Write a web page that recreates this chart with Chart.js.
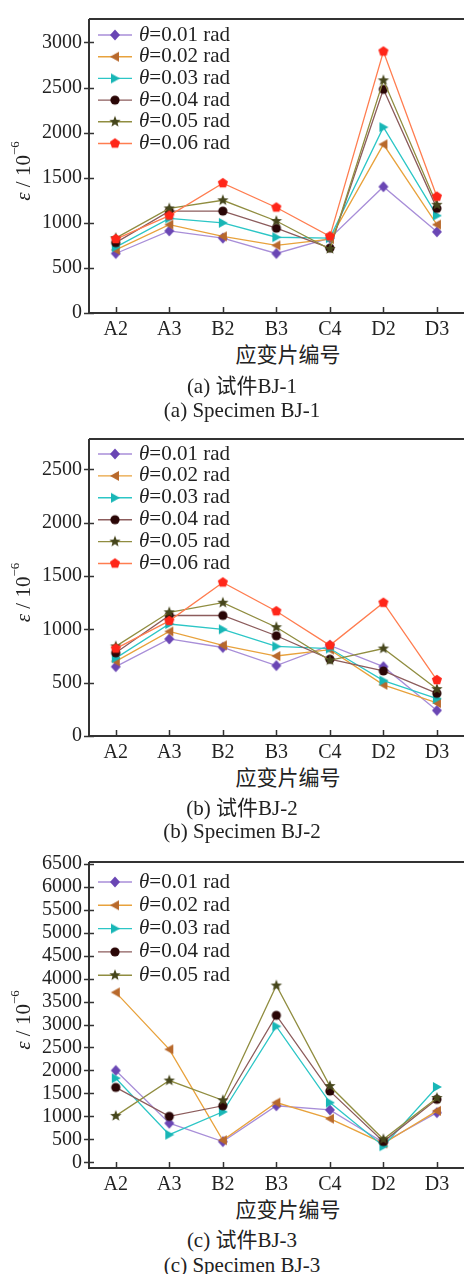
<!DOCTYPE html>
<html>
<head>
<meta charset="utf-8">
<script src="https://cdn.jsdelivr.net/npm/chart.js@4/dist/chart.umd.min.js"></script>
<style>
  body { margin: 0; width: 464px; height: 1274px; overflow: hidden; background: #fff; position: relative; }
  canvas { position: absolute; left: 0; }
  .txt { position: absolute; text-align: center; white-space: nowrap; color: #222;
         font-family: "Liberation Serif", "Noto Sans CJK SC", serif; }
</style>
</head>
<body>
<canvas id="c1" width="470" height="343" style="top:0px"></canvas>
<canvas id="c2" width="470" height="346" style="top:420px"></canvas>
<canvas id="c3" width="470" height="358" style="top:840px"></canvas>

<script>
const categories = ['A2', 'A3', 'B2', 'B3', 'C4', 'D2', 'D3'];
const thetas = ['0.01', '0.02', '0.03', '0.04', '0.05', '0.06'];

// y tick values for each specimen
const bj1Ticks = [0, 500, 1000, 1500, 2000, 2500, 3000];
const bj2Ticks = [0, 500, 1000, 1500, 2000, 2500];
const bj3Ticks = [0, 500, 1000, 1500, 2000, 2500, 3000, 3500, 4000, 4500, 5000, 5500, 6000, 6500];

// strain (x10^-6) per gauge, one row per drift angle
const bj1Strain = [
  [660, 910, 830, 660, 830, 1400, 900],
  [700, 980, 850, 750, 820, 1870, 980],
  [730, 1050, 1000, 840, 830, 2060, 1080],
  [780, 1130, 1130, 940, 720, 2480, 1160],
  [830, 1160, 1250, 1020, 710, 2580, 1200],
  [820, 1080, 1440, 1170, 850, 2900, 1290]
];
const bj2Strain = [
  [650, 910, 830, 660, 850, 650, 240],
  [700, 980, 850, 750, 810, 480, 310],
  [730, 1050, 1000, 840, 820, 520, 350],
  [780, 1130, 1130, 940, 720, 610, 400],
  [840, 1160, 1250, 1020, 710, 820, 440],
  [820, 1080, 1440, 1170, 850, 1250, 525]
];
const bj3Strain = [
  [2000, 850, 450, 1230, 1140, 430, 1080],
  [3700, 2460, 480, 1300, 950, 410, 1120],
  [1830, 600, 1100, 2960, 1300, 350, 1640],
  [1630, 1000, 1230, 3200, 1550, 450, 1370],
  [1010, 1780, 1350, 3850, 1660, 500, 1400]
];

const lineColors = ['#a88ed8', '#e8a23c', '#2cc6c6', '#8c5c5c', '#908d40', '#ff7d50'];
const markColors = ['#6a46b4', '#b8692c', '#18b6b6', '#2a0606', '#46461c', '#ff2619'];
const markKinds = ['diamond', 'left', 'right', 'circle', 'star', 'pentagon'];

function markerCanvas(kind, color) {
  const c = document.createElement('canvas');
  c.width = c.height = 14;
  const g = c.getContext('2d');
  g.fillStyle = color;
  g.translate(7, 7);
  g.beginPath();
  if (kind === 'diamond') {
    g.moveTo(0, -5.5); g.lineTo(5, 0); g.lineTo(0, 5.5); g.lineTo(-5, 0);
  } else if (kind === 'left') {
    g.moveTo(-5, 0); g.lineTo(4, -5); g.lineTo(4, 5);
  } else if (kind === 'right') {
    g.moveTo(5, 0); g.lineTo(-4, -5); g.lineTo(-4, 5);
  } else if (kind === 'circle') {
    g.arc(0, 0, 4.6, 0, Math.PI * 2);
  } else if (kind === 'star') {
    for (let i = 0; i < 10; i++) {
      const r = i % 2 ? 2.6 : 6;
      const a = -Math.PI / 2 + i * Math.PI / 5;
      g.lineTo(r * Math.cos(a), r * Math.sin(a));
    }
  } else {
    for (let i = 0; i < 5; i++) {
      const a = -Math.PI / 2 + i * 2 * Math.PI / 5;
      g.lineTo(5.3 * Math.cos(a), 5.3 * Math.sin(a));
    }
  }
  g.closePath();
  g.fill();
  return c;
}
const markers = markKinds.map((k, i) => markerCanvas(k, markColors[i]));

// ticks, frame, y title and legend drawn by hand
const framePlugin = {
  id: 'frame',
  afterDraw(chart, args, opts) {
    const ctx = chart.ctx;
    const a = chart.chartArea;
    const right = a.right + 10;
    ctx.save();
    ctx.strokeStyle = '#333';
    ctx.lineWidth = 2;
    ctx.beginPath();
    ctx.moveTo(a.left, a.top); ctx.lineTo(right, a.top);
    ctx.moveTo(a.left, a.top); ctx.lineTo(a.left, a.bottom);
    ctx.moveTo(a.left - 1, a.bottom); ctx.lineTo(right, a.bottom);
    ctx.stroke();

    ctx.lineWidth = 1.5;
    ctx.beginPath();
    const y = chart.scales.y;
    y.ticks.forEach(t => {
      const py = Math.round(y.getPixelForValue(t.value)) + 0.5;
      ctx.moveTo(a.left - 5, py); ctx.lineTo(a.left + 5, py);
    });
    const x = chart.scales.x;
    x.ticks.forEach((t, i) => {
      const px = Math.round(x.getPixelForTick(i)) + 0.5;
      ctx.moveTo(px, a.bottom); ctx.lineTo(px, a.bottom - 6);
    });
    ctx.stroke();

    // y axis title: ε / 10^-6
    ctx.fillStyle = '#222';
    ctx.translate(24, (a.top + a.bottom) / 2 + 5);
    ctx.rotate(-Math.PI / 2);
    ctx.textBaseline = 'middle';
    const parts = [
      { s: 'ε', f: 'italic 21px "Liberation Serif"', dy: 0 },
      { s: ' / 10', f: '21px "Liberation Serif"', dy: 0 },
      { s: '−6', f: '13px "Liberation Serif"', dy: -8 }
    ];
    let w = 0;
    parts.forEach(p => { ctx.font = p.f; p.w = ctx.measureText(p.s).width; w += p.w; });
    let cx = -w / 2;
    parts.forEach(p => { ctx.font = p.f; ctx.fillText(p.s, cx, p.dy); cx += p.w; });
    ctx.restore();

    // legend inside the plot
    ctx.save();
    ctx.textBaseline = 'middle';
    chart.data.datasets.forEach((ds, i) => {
      const ly = a.top + opts.legendTop + i * opts.legendGap;
      ctx.strokeStyle = ds.borderColor;
      ctx.lineWidth = 1.4;
      ctx.beginPath();
      ctx.moveTo(a.left + 9, ly); ctx.lineTo(a.left + 43, ly);
      ctx.stroke();
      const m = ds.pointStyle;
      ctx.drawImage(m, a.left + 26 - m.width / 2, ly - m.height / 2);
      ctx.fillStyle = '#222';
      ctx.font = 'italic 21px "Liberation Serif"';
      ctx.fillText('θ', a.left + 50, ly);
      const tw = ctx.measureText('θ').width;
      ctx.font = '21px "Liberation Serif"';
      ctx.fillText('=' + thetas[i] + ' rad', a.left + 50 + tw, ly);
    });
    ctx.restore();
  }
};

function makeChart(id, rows, yTicks, yMin, yMax, padTop, legendTop, legendGap) {
  const datasets = rows.map((vals, i) => ({
    label: 'θ=' + thetas[i] + ' rad',
    data: vals,
    borderColor: lineColors[i],
    borderWidth: 1.3,
    pointStyle: markers[i],
    pointRadius: 5,
    pointHoverRadius: 5,
    tension: 0,
    order: rows.length - i
  }));
  return new Chart(document.getElementById(id), {
    type: 'line',
    data: { labels: categories, datasets },
    plugins: [framePlugin],
    options: {
      responsive: false,
      animation: false,
      events: [],
      layout: { padding: { top: padTop, right: 3, left: 0, bottom: 0 } },
      plugins: {
        legend: { display: false },
        tooltip: { enabled: false },
        frame: { legendTop, legendGap }
      },
      scales: {
        x: {
          offset: true,
          grid: { display: false, drawTicks: false },
          border: { display: false },
          ticks: { color: '#222', padding: 5, font: { family: 'Liberation Serif', size: 20 } },
          afterFit: s => { s.height = 30; }
        },
        y: {
          min: yMin,
          max: yMax,
          grid: { display: false, drawTicks: false },
          border: { display: false },
          ticks: {
            color: '#222', padding: 7, autoSkip: false,
            font: { family: 'Liberation Serif', size: 20 },
            callback: v => String(v)
          },
          afterBuildTicks: s => { s.ticks = yTicks.map(v => ({ value: v })); },
          afterFit: s => { s.width = 89; }
        }
      }
    }
  });
}

makeChart('c1', bj1Strain, bj1Ticks, 0, 3260, 8, 16, 21.7);
makeChart('c2', bj2Strain, bj2Ticks, 0, 2785, 12, 15, 21.9);
makeChart('c3', bj3Strain, bj3Ticks, -125, 6540, 22, 20, 23.3);

// axis names and captions under each panel
const captions = [
  { letter: 'a', id: 'BJ-1', t: 355, c1: 386, c2: 410 },
  { letter: 'b', id: 'BJ-2', t: 778, c1: 808, c2: 831 },
  { letter: 'c', id: 'BJ-3', t: 1210, c1: 1240, c2: 1265 }
];
function addText(text, cx, cy, size) {
  const d = document.createElement('div');
  d.className = 'txt';
  d.textContent = text;
  d.style.left = (cx - 150) + 'px';
  d.style.width = '300px';
  d.style.top = (cy - size / 2) + 'px';
  d.style.fontSize = size + 'px';
  d.style.lineHeight = size + 'px';
  document.body.appendChild(d);
}
captions.forEach(c => {
  addText('应变片编号', 288, c.t, 21);
  addText('(' + c.letter + ') 试件' + c.id, 242, c.c1, 21);
  addText('(' + c.letter + ') Specimen ' + c.id, 242, c.c2, 21);
});
</script>
</body>
</html>
